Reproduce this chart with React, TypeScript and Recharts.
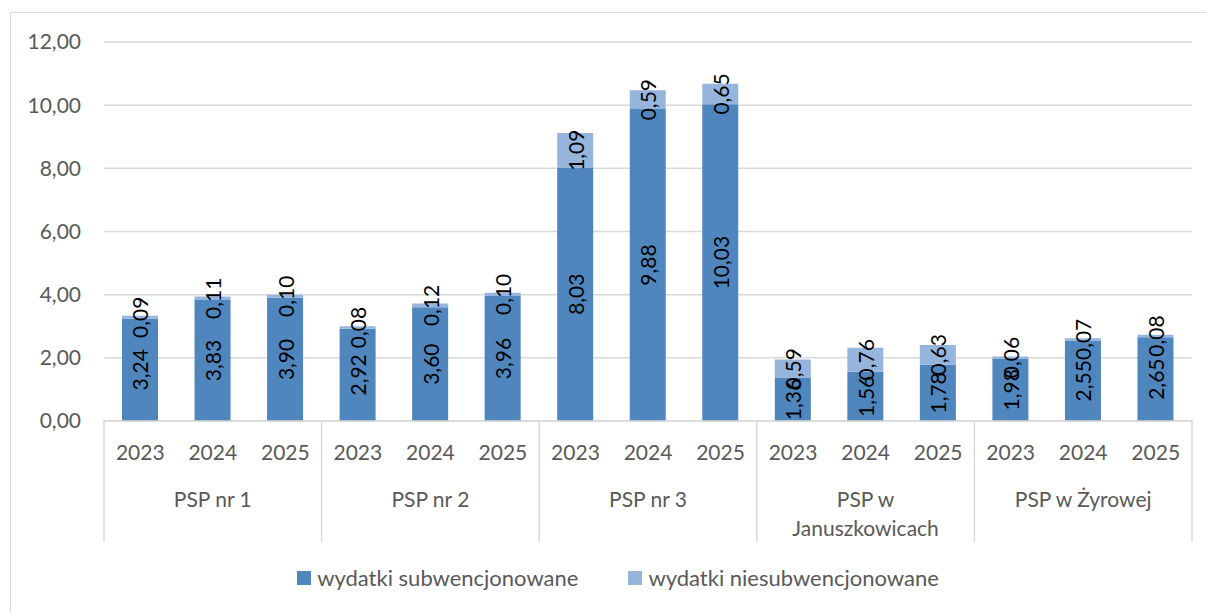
import { BarChart, Bar, XAxis, YAxis, CartesianGrid, LabelList } from 'recharts'

const groups = ['PSP nr 1', 'PSP nr 2', 'PSP nr 3', 'PSP w Januszkowicach', 'PSP w Żyrowej']
const years = ['2023', '2024', '2025']
const subsidised = [3.24, 3.83, 3.9, 2.92, 3.6, 3.96, 8.03, 9.88, 10.03, 1.36, 1.56, 1.78, 1.98, 2.55, 2.65]
const unsubsidised = [0.09, 0.11, 0.1, 0.08, 0.12, 0.1, 1.09, 0.59, 0.65, 0.59, 0.76, 0.63, 0.06, 0.07, 0.08]
const yTicks = [0, 2, 4, 6, 8, 10, 12]
const seriesNames = ['wydatki subwencjonowane', 'wydatki niesubwencjonowane']
const seriesColors = ['#4F86BE', '#95B5DD']

const data = subsidised.map((v, i) => ({
  key: i,
  group: groups[Math.floor(i / years.length)],
  year: years[i % years.length],
  sub: v,
  nonsub: unsubsidised[i]
}))

const FONT = 'Lato, "Open Sans", sans-serif'
const TEXT = '#595959'
const GRID = '#d9d9d9'
const PLOT_LEFT = 104
const PLOT_RIGHT = 1192
const SLOT = (PLOT_RIGHT - PLOT_LEFT) / data.length

const fmt = (v: number) => v.toFixed(2).replace('.', ',')

const CategoryTick = (props: any) => {
  const { x, payload } = props
  const y = props.y - 9 // axis line
  const i = payload.value as number
  const d = data[i]
  const pos = i % years.length
  const parts = d.group === 'PSP w Januszkowicach' ? ['PSP w', 'Januszkowicach'] : [d.group]
  return (
    <g>
      <text x={x} y={y + 31} textAnchor='middle' dominantBaseline='central' fill={TEXT} fontSize={21} fontFamily={FONT}>
        {d.year}
      </text>
      {pos === 1 &&
        parts.map((p, k) => (
          <text key={k} x={x} y={y + 78 + k * 29} textAnchor='middle' dominantBaseline='central' fill={TEXT} fontSize={21} fontFamily={FONT}>
            {p}
          </text>
        ))}
      {pos === 0 && <line x1={x - SLOT / 2} x2={x - SLOT / 2} y1={y} y2={y + 122} stroke={GRID} strokeWidth={1.5} />}
      {i === data.length - 1 && <line x1={x + SLOT / 2} x2={x + SLOT / 2} y1={y} y2={y + 122} stroke={GRID} strokeWidth={1.5} />}
    </g>
  )
}

const SegmentLabel = (props: any) => {
  const { x, y, width, height, value } = props
  const cx = x + width / 2
  const cy = y + height / 2
  return (
    <text
      x={cx}
      y={cy}
      transform={`rotate(-90 ${cx} ${cy})`}
      textAnchor='middle'
      dominantBaseline='central'
      fill='#000'
      fontSize={21}
      fontFamily={FONT}
    >
      {fmt(value)}
    </text>
  )
}

export default function App() {
  return (
    <div style={{ position: 'absolute', left: 0, top: 0, width: 1206, height: 613, background: '#fff', overflow: 'hidden' }}>
      <div style={{ position: 'absolute', left: 10, top: 12, width: 1200, height: 610, border: `1.5px solid ${GRID}` }} />
      <BarChart
        width={1206}
        height={613}
        data={data}
        margin={{ top: 42, right: 1206 - PLOT_RIGHT, left: 0, bottom: 70 }}
        style={{ position: 'absolute', left: 0, top: 0 }}
      >
        <CartesianGrid vertical={false} stroke={GRID} strokeWidth={1.5} />
        <XAxis dataKey='key' interval={0} tickLine={false} axisLine={{ stroke: GRID, strokeWidth: 1.5 }} height={122} tick={<CategoryTick />} />
        <YAxis
          width={PLOT_LEFT}
          domain={[0, 12]}
          ticks={yTicks}
          tickFormatter={fmt}
          axisLine={false}
          tickLine={false}
          tickMargin={17}
          tick={{ fill: TEXT, fontSize: 21, fontFamily: FONT }}
        />
        <Bar dataKey='sub' name={seriesNames[0]} stackId='a' fill={seriesColors[0]} barSize={36} isAnimationActive={false}>
          <LabelList dataKey='sub' content={<SegmentLabel />} />
        </Bar>
        <Bar dataKey='nonsub' name={seriesNames[1]} stackId='a' fill={seriesColors[1]} barSize={36} isAnimationActive={false}>
          <LabelList dataKey='nonsub' content={<SegmentLabel />} />
        </Bar>
      </BarChart>
      <div
        style={{
          position: 'absolute',
          left: 30,
          top: 564,
          width: 1176,
          display: 'flex',
          justifyContent: 'center',
          gap: 50,
          fontFamily: FONT,
          fontSize: 22,
          lineHeight: '28px',
          color: TEXT
        }}
      >
        {seriesNames.map((n, k) => (
          <div key={k} style={{ display: 'flex', alignItems: 'center', gap: 6 }}>
            <div style={{ width: 14, height: 14, backgroundColor: seriesColors[k] }} />
            <span>{n}</span>
          </div>
        ))}
      </div>
    </div>
  )
}
